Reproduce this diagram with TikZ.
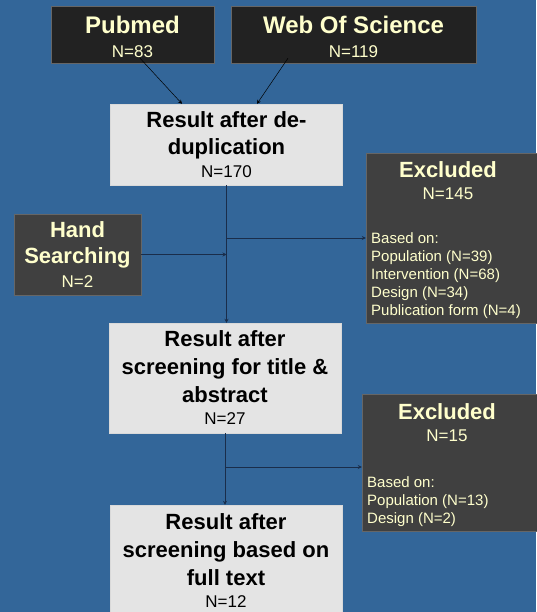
\documentclass[tikz,border=0pt]{standalone}
\usepackage{fontspec}
\setmainfont{Liberation Sans}
\usetikzlibrary{arrows.meta,positioning}

\definecolor{bg}{HTML}{336699}
\definecolor{darkbox}{HTML}{222222}
\definecolor{greybox}{HTML}{404040}
\definecolor{lightbox}{HTML}{E4E4E4}
\definecolor{cream}{HTML}{FFFFCC}
\definecolor{wire}{HTML}{1A2D4A}

\newcommand{\hfont}{\bfseries\fontsize{22}{27}\selectfont}
\newcommand{\nfont}{\normalfont\fontsize{17}{20}\selectfont}
\newcommand{\lfont}{\normalfont\fontsize{15}{18}\selectfont}

\tikzset{
    src/.style={draw=black!60, fill=darkbox, text=cream, inner sep=0pt, align=center,
        minimum height=57, font=\bfseries\fontsize{24}{28}\selectfont},
    extra/.style={draw=black!60, fill=greybox, text=cream, inner sep=0pt, align=center,
        minimum width=127, minimum height=81, font=\hfont},
    res/.style={draw=white!85!black, fill=lightbox, text=black, inner sep=0pt, align=center,
        minimum width=232, font=\hfont},
    excl/.style={draw=black!60, fill=greybox, inner sep=0pt},
    head/.style={text=cream, inner sep=0pt, align=center, font=\hfont, anchor=north},
    why/.style={text=cream, inner sep=0pt, align=left, font=\lfont, anchor=north west},
    flow/.style={wire, line width=0.9pt, -{Stealth[length=4pt,width=4pt]}},
    feed/.style={black, line width=0.5pt, -{Stealth[length=4pt,width=4pt]}},
}

\begin{document}
\begin{tikzpicture}[x=1pt, y=-1pt]
    \fill[bg] (0,0) rectangle (536,612);
    \useasboundingbox (0,0) rectangle (536,612);
    \node[src, minimum width=163] (pub) at (132.5,34.5) {\rule{0pt}{22pt}Pubmed\\[-4pt]{\nfont N=83}};
    \node[src, minimum width=245] (wos) at (353.5,34.5) {\rule{0pt}{22pt}Web Of Science\\[-4pt]{\nfont N=119}};
    \node[res, minimum height=81] (dd) at (226.5,144.5) {Result after de-\\duplication\\[-4pt]{\nfont N=170}};
    \node[extra] (hand) at (77.5,254.5) {Hand\\[-1pt]Searching\\[-3pt]{\nfont N=2}};
    \node[excl, minimum width=174, minimum height=170] (exc1) at (453,238) {};
    \node[head] (exc1h) at (448,161) {Excluded\\[-5pt]{\nfont N=145}};
    \node[why] (exc1r) at (371,232) {Based on:\\Population (N=39)\\Intervention (N=68)\\Design (N=34)\\Publication form (N=4)};
    \node[res, minimum height=110] (sc1) at (225,378) {Result after\\[1pt]screening for title \&\\[1pt]abstract\\[-5pt]{\nfont N=27}};
    \node[excl, minimum width=178, minimum height=137] (exc2) at (451,462.5) {};
    \node[head] (exc2h) at (447,403) {Excluded\\[-5pt]{\nfont N=15}};
    \node[why] (exc2r) at (367,476) {Based on:\\Population (N=13)\\Design (N=2)};
    \node[res, minimum height=112] (sc2) at (226,561) {Result after\\[1pt]screening based on\\[1pt]full text\\[-5pt]{\nfont N=12}};
    \coordinate (x2) at ([yshift=-4.5pt]exc2.west);

    \draw[feed] ([xshift=7.5pt,yshift=5pt]pub.south) -- ([xshift=-44.5pt]dd.north);
    \draw[feed] ([xshift=-65.5pt,yshift=5pt]wos.south) -- ([xshift=30.5pt]dd.north);
    \draw[flow] (dd.south) -- (dd.south |- sc1.north);
    \draw[flow] (hand.east) -- (dd.south |- hand.east);
    \draw[flow] (dd.south |- exc1.west) -- (exc1.west);
    \draw[flow] (sc1.south) -- (sc1.south |- sc2.north);
    \draw[flow] (sc1.south |- x2) -- (x2);
\end{tikzpicture}
\end{document}
